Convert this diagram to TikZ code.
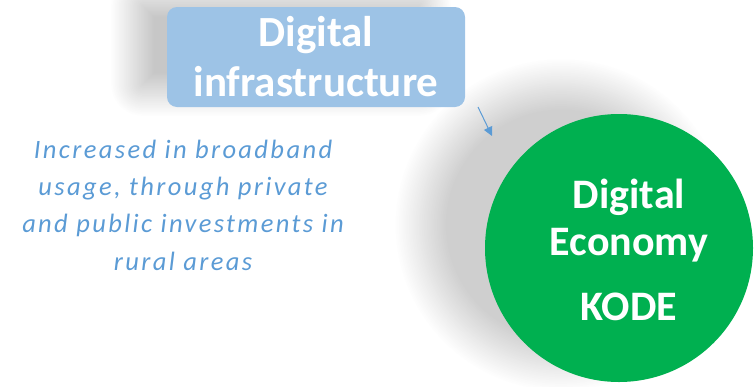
\documentclass[tikz,border=0pt]{standalone}
\usepackage{fontspec}
\setmainfont{Carlito}
\newfontfamily\notesfont[LetterSpace=9]{Carlito}
\usetikzlibrary{shadows.blur,arrows.meta}
\definecolor{infrablue}{HTML}{9DC3E6}
\definecolor{notesblue}{HTML}{5B9BD5}
\definecolor{kodegreen}{HTML}{00B050}
\begin{document}
\begin{tikzpicture}[x=1pt,y=-1pt,
    infrabox/.style={fill=infrablue,rounded corners=10pt,minimum width=298pt,minimum height=100pt,inner sep=0pt,
      text=white,align=center,font=\fontsize{43}{50}\selectfont\bfseries,
      blur shadow={shadow xshift=-35pt,shadow yshift=12pt,shadow blur radius=22pt,shadow blur steps=40,shadow opacity=22}},
    kodecircle/.style={circle,fill=kodegreen,minimum size=268pt,inner sep=0pt,
      blur shadow={shadow xshift=-55pt,shadow yshift=22pt,shadow scale=1.05,shadow blur radius=25pt,shadow blur steps=40,shadow opacity=19}},
    kodetext/.style={text=white,align=center,font=\fontsize{42}{47}\selectfont\bfseries},
    notes/.style={text=notesblue,align=center,font=\notesfont\fontsize{26.5}{37.3}\selectfont\itshape}]
  \useasboundingbox (0,0) rectangle (755,386);
  % circle first, box on top of its shadow
  \node[kodecircle] (economy) at (619,248) {};
  \node[kodetext] (economytext) at (629,249.5) {Digital\\Economy\\[18pt]KODE};
  \node[infrabox] (infra) at (316,57) {Digital\\infrastructure};
  \node[notes] (usage) at (183,205) {Increased in broadband\\usage, through private\\and public investments in\\rural areas};
  % arrow
  \coordinate (arrowstart) at (478,107);
  \coordinate (arrowend) at (492,136);
  \draw[-{Triangle[length=9pt,width=9pt]},notesblue,line width=1pt] (arrowstart) -- (arrowend);
\end{tikzpicture}
\end{document}
